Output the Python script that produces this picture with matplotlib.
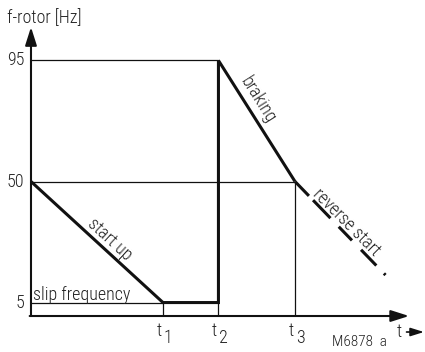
"""Rotor frequency during start up, braking and reverse start (soft starter diagram)."""
import matplotlib
matplotlib.use("Agg")
import matplotlib.pyplot as plt

plt.rcParams["font.family"] = ["Roboto Condensed", "DejaVu Sans"]
plt.rcParams["font.weight"] = 300
plt.rcParams["lines.scale_dashes"] = False

# time marks (arbitrary units) and frequency levels in Hz
t_marks = [1.0, 1.42, 2.0]
t_names = ["1", "2", "3"]
f_levels = [5, 50, 95]
f_names = ["5", "50", "95"]

# rotor frequency: start up -> slip frequency -> braking
curve_t = [0.0, 1.0, 1.42, 1.42, 2.0]
curve_f = [50, 5, 5, 95, 50]

# reverse start continuation after t3
reverse_t = [2.0, 2.69]
reverse_f = [50, 15]

INK = "#111111"
TXT = "#222222"
FS = 13

fig = plt.figure(figsize=(4.25, 3.52), dpi=100)
ax = fig.add_axes([0, 0, 1, 1])
ax.axis("off")
ax.set_xlim(-0.2348, 2.9848)
ax.set_ylim(-13.38, 117.47)

# axes with arrows
arrow = dict(arrowstyle="-|>,head_length=1.1,head_width=0.35", lw=1.5,
             color=INK, mutation_scale=10, shrinkA=0, shrinkB=0)
ax.annotate("", xy=(0, 107.4), xytext=(0, 0), arrowprops=arrow)
ax.annotate("", xy=(2.864, 0), xytext=(-0.01, 0), arrowprops=arrow)

# thin reference lines
thin = dict(color=INK, lw=0.9, solid_capstyle="butt")
ax.plot([0, t_marks[1]], [f_levels[2], f_levels[2]], **thin)
ax.plot([0, t_marks[2]], [f_levels[1], f_levels[1]], **thin)
ax.plot([0, t_marks[0]], [f_levels[0], f_levels[0]], **thin)
ax.plot([t_marks[0], t_marks[0]], [0, f_levels[0]], **thin)
ax.plot([t_marks[1], t_marks[1]], [0, f_levels[0]], **thin)
ax.plot([t_marks[2], t_marks[2]], [0, f_levels[1]], **thin)

# rotor frequency
ax.plot(curve_t, curve_f, color=INK, lw=2.2, solid_joinstyle="miter",
        solid_capstyle="butt")
ax.plot(reverse_t, reverse_f, color=INK, lw=2.2, dash_capstyle="butt",
        linestyle=(0, (14.4, 4.3, 18, 8.6, 13.7, 9.4, 15.8, 7.9, 1.6, 100)))

# tick labels
for f, name in zip(f_levels, f_names):
    ax.annotate(name, xy=(0, f), xytext=(-5, 0), textcoords="offset points",
                ha="right", va="center", fontsize=FS, color=TXT)
for t, name in zip(t_marks, t_names):
    ax.annotate("t", xy=(t, 0), xytext=(-3, -10.8), textcoords="offset points",
                ha="center", va="center", fontsize=FS, color=TXT)
    ax.annotate(name, xy=(t, 0), xytext=(3.8, -15.8), textcoords="offset points",
                ha="center", va="center", fontsize=FS, color=TXT)

ax.text(-0.18, 110.8, "f-rotor [Hz]", ha="left", va="center", fontsize=FS, color=TXT)
ax.text(2.788, -5.95, "t", ha="center", va="center", fontsize=FS, color=TXT)
ax.annotate("", xy=(2.977, -5.95), xytext=(2.845, -5.95),
            arrowprops=dict(arrowstyle="-|>,head_length=0.8,head_width=0.25",
                            lw=1.2, color=INK, mutation_scale=10,
                            shrinkA=0, shrinkB=0))
ax.text(2.49, -9.7, "M6878  a", ha="center", va="center", fontsize=11, color=TXT)

# curve annotations
ax.annotate("slip frequency", xy=(0, f_levels[0]), xytext=(1.5, 2.2),
            textcoords="offset points", ha="left", va="baseline",
            fontsize=FS, color=TXT)
ax.text(0.598, 28.3, "start up", rotation=-42.5, rotation_mode="anchor",
        ha="center", va="center", fontsize=FS, color=TXT)
ax.text(1.72, 80.3, "braking", rotation=-57.9, rotation_mode="anchor",
        ha="center", va="center", fontsize=FS, color=TXT)
ax.text(2.386, 34.9, "reverse start", rotation=-45, rotation_mode="anchor",
        ha="center", va="center", fontsize=FS, color=TXT)

fig.savefig("out.png", dpi=100)
plt.close(fig)
